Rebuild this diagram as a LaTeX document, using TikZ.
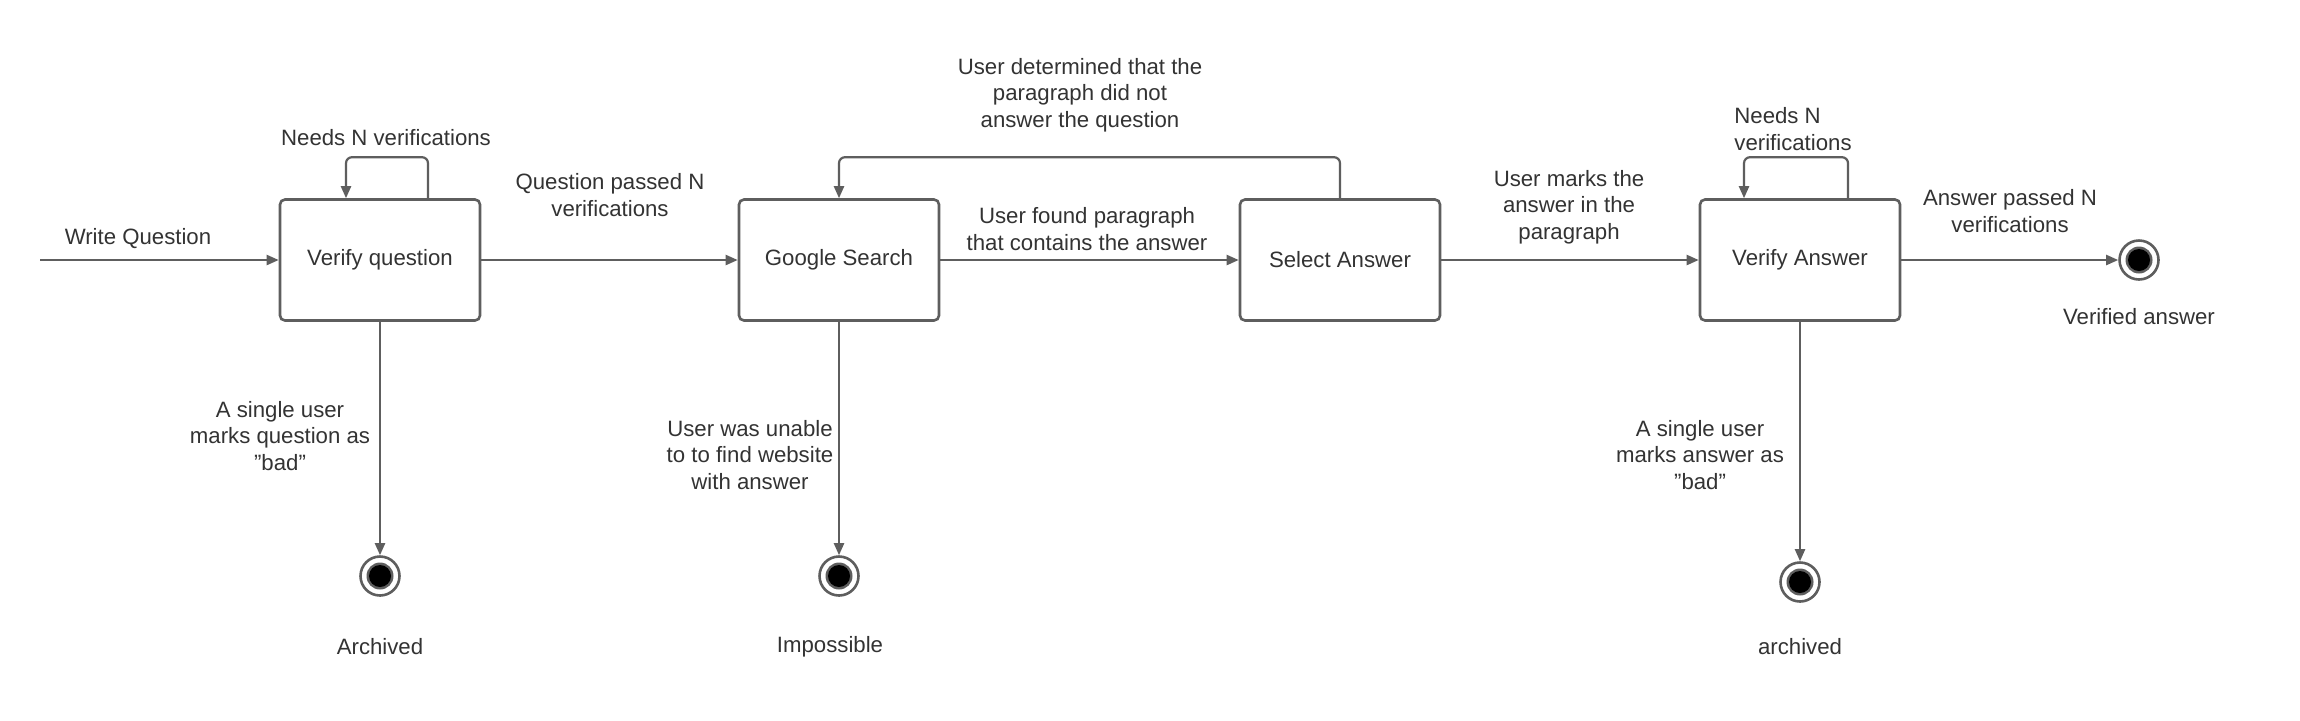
\documentclass[tikz,border=0pt]{standalone}
\usepackage{fontspec}
\setmainfont{Liberation Sans}
\usetikzlibrary{arrows.meta}

\definecolor{lineGray}{RGB}{94,94,94}
\definecolor{textGray}{RGB}{51,51,51}

\tikzset{
  statebox/.style={draw=lineGray,line width=1.3pt,rounded corners=2.5pt,minimum width=100pt,minimum height=60.5pt,inner sep=0pt,text=textGray,font=\fontsize{11.1}{13.2}\selectfont},
  flow/.style={draw=lineGray,line width=1.1pt,rounded corners=3pt,-{Triangle[length=6pt,width=5pt]}},
  lbl/.style={inner sep=0pt,text=textGray,align=center,font=\fontsize{11.1}{13.2}\selectfont},
  finalstate/.style={circle,draw=lineGray,line width=1.3pt,minimum size=19.5pt,inner sep=0pt,
    path picture={\fill[lineGray] (path picture bounding box.center) circle (6.75pt);
      \fill[black] (path picture bounding box.center) circle (5.5pt);}},
}

\begin{document}
\begin{tikzpicture}[x=.5pt,y=-.5pt]
\path[use as bounding box] (0,0) rectangle (2300,720);
\path[fill=white,draw=none] (0,0) rectangle (2300,720);
% states
\coordinate (start) at (40,260);
\node[statebox] (verifyQ) at (380,260) {Verify question};
\node[statebox] (search) at (839,260) {Google Search};
\node[statebox] (select) at (1340,260) {Select Answer};
\node[statebox] (verifyA) at (1800,260) {Verify Answer};
\node[finalstate] (endArchQ) at (380,576) {};
\node[finalstate] (endImposs) at (839,576) {};
\node[finalstate] (endArchA) at (1800,582) {};
\node[finalstate] (endDone) at (2139,260) {};
% transitions
\draw[flow] (start) -- (verifyQ);
\draw[flow] ([xshift=24pt]verifyQ.north) -- ++(0,-41) -| ([xshift=-17pt]verifyQ.north);
\draw[flow] (verifyQ) -- (search);
\draw[flow] (search) -- (select);
\draw[flow] (select.north) -- ++(0,-41) -| (search.north);
\draw[flow] (select) -- (verifyA);
\draw[flow] ([xshift=24pt]verifyA.north) -- ++(0,-41) -| ([xshift=-28pt]verifyA.north);
\draw[flow] (verifyA) -- (endDone);
\draw[flow] (verifyQ) -- (endArchQ);
\draw[flow] (search) -- (endImposs);
\draw[flow] (verifyA) -- (endArchA);
% labels
\node[lbl] (lWrite) at (138,239) {Write Question};
\node[lbl] (lNeedsQ) at (386,138) {Needs N verifications};
\node[lbl] (lPassQ) at (610,195) {Question passed N\\verifications};
\node[lbl] (lFound) at (1087,229) {User found paragraph\\that contains the answer};
\node[lbl] (lBack) at (1080,95) {User determined that the\\paragraph did not\\answer the question};
\node[lbl] (lMarks) at (1569,207) {User marks the\\answer in the\\paragraph};
\node[lbl,align=left,anchor=west] (lNeedsA) at (1734,129) {Needs N\\verifications};
\node[lbl] (lPassA) at (2010,211) {Answer passed N\\verifications};
\node[lbl] (lVerified) at (2139,317) {Verified answer};
\node[lbl] (lBadQ) at (280,436) {A single user\\marks question as\\"bad"};
\node[lbl] (lUnable) at (750,455) {User was unable\\to to find website\\with answer};
\node[lbl] (lBadA) at (1700,455) {A single user\\marks answer as\\"bad"};
\node[lbl] (lArchQ) at (380,647) {Archived};
\node[lbl] (lImposs) at (830,647) {Impossible};
\node[lbl] (lArchA) at (1800,647) {archived};
\end{tikzpicture}
\end{document}
